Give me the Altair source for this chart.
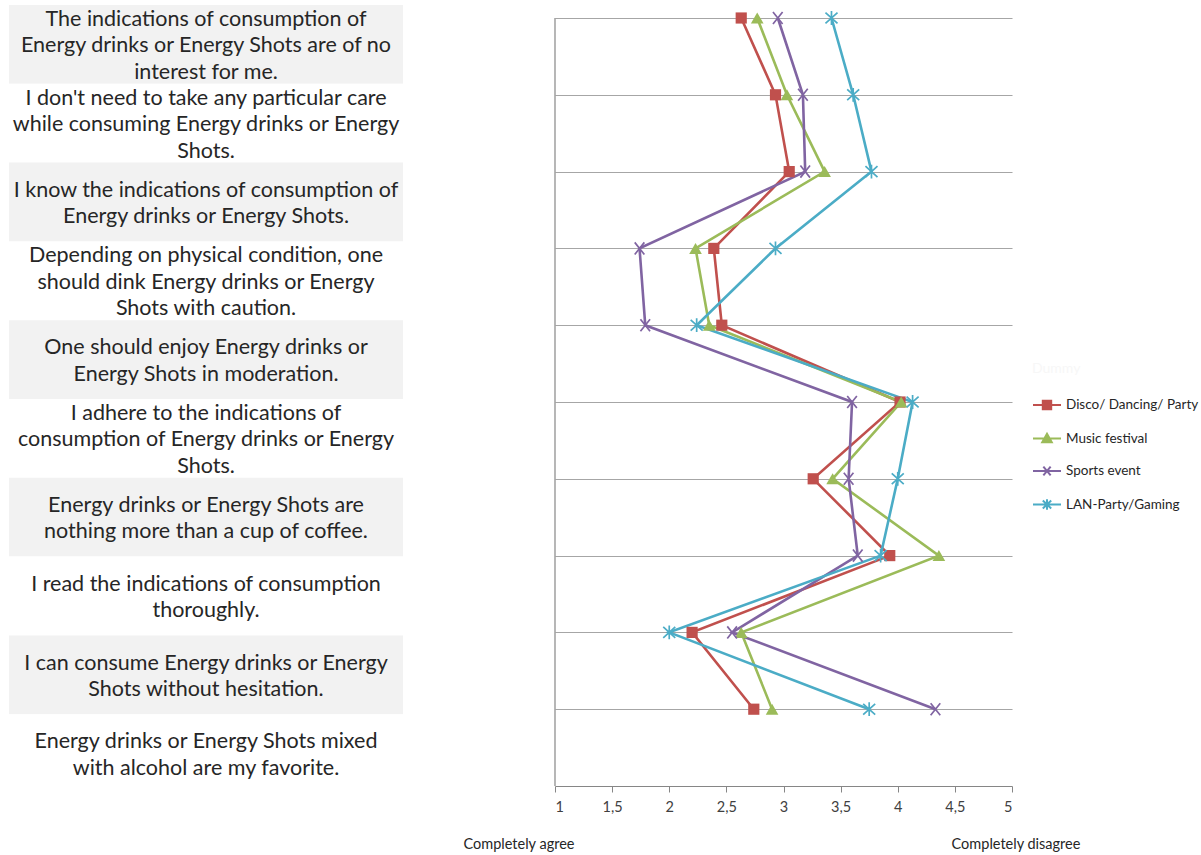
import altair as alt
import pandas as pd

# Survey statements (top to bottom)
STATEMENTS = [
    "The indications of consumption of\nEnergy drinks or Energy Shots are of no\ninterest for me.",
    "I don't need to take any particular care\nwhile consuming Energy drinks or Energy\nShots.",
    "I know the indications of consumption of\nEnergy drinks or Energy Shots.",
    "Depending on physical condition, one\nshould dink Energy drinks or Energy\nShots with caution.",
    "One should enjoy Energy drinks or\nEnergy Shots in moderation.",
    "I adhere to the indications of\nconsumption of Energy drinks or Energy\nShots.",
    "Energy drinks or Energy Shots are\nnothing more than a cup of coffee.",
    "I read the indications of consumption\nthoroughly.",
    "I can consume Energy drinks or Energy\nShots without hesitation.",
    "Energy drinks or Energy Shots mixed\nwith alcohol are my favorite.",
]

SERIES = ["Disco/ Dancing/ Party", "Music festival", "Sports event", "LAN-Party/Gaming"]
COLORS = ["#C0504D", "#9BBB59", "#8064A2", "#4BACC6"]

# Mean agreement (1 = completely agree, 5 = completely disagree), one value per statement
DISCO = [2.63, 2.93, 3.05, 2.39, 2.46, 4.02, 3.26, 3.93, 2.20, 2.74]
MUSIC = [2.77, 3.03, 3.36, 2.23, 2.35, 4.03, 3.43, 4.36, 2.63, 2.90]
SPORTS = [2.95, 3.17, 3.19, 1.74, 1.79, 3.60, 3.57, 3.65, 2.55, 4.33]
LAN = [3.42, 3.61, 3.77, 2.93, 2.24, 4.13, 4.00, 3.85, 2.00, 3.75]

X_TICKS = [1, 1.5, 2, 2.5, 3, 3.5, 4, 4.5, 5]
ROW_POSITIONS = list(range(1, 11))
END_LABELS = ["Completely agree", "Completely disagree"]

FONT = "Lato"
TEXT = "#262626"
GRID = "#a6a6a6"
AXIS = "#868686"

# ---- long table for the profile lines ----
records = []
for name, vals in zip(SERIES, [DISCO, MUSIC, SPORTS, LAN]):
    for i, v in enumerate(vals):
        records.append({"series": name, "idx": i, "pos": len(vals) - i, "value": v})
df = pd.DataFrame(records)

rows = pd.DataFrame({
    "statement": STATEMENTS,
    "idx": list(range(len(STATEMENTS))),
    "nlines": [s.count("\n") + 1 for s in STATEMENTS],
})

# ---- left panel: statements on alternating shaded bands ----
LEFT_W, LEFT_H = 394, 788
LINE_H = 26.5
y_band = alt.Y("statement:N", sort=STATEMENTS, axis=None,
               scale=alt.Scale(paddingInner=0, paddingOuter=0))

boxes = alt.Chart(rows).mark_rect().encode(
    y=y_band,
    x=alt.value(0),
    x2=alt.value(LEFT_W),
    fill=alt.condition("datum.idx % 2 == 0", alt.value("#f2f2f2"), alt.value("#ffffff")),
)

# multi-line labels, centred vertically in their band
label_layers = [
    alt.Chart(rows).transform_filter(alt.datum.nlines == n).mark_text(
        font=FONT, fontSize=21.5, lineBreak="\n", lineHeight=LINE_H,
        align="center", baseline="middle", color=TEXT, dy=-(n - 1) * LINE_H / 2 + 2,
    ).encode(y=y_band, x=alt.value(LEFT_W / 2), text="statement:N")
    for n in (2, 3)
]

left = alt.layer(boxes, *label_layers).properties(width=LEFT_W, height=LEFT_H)

# ---- right panel: agreement profiles ----
RIGHT_W, RIGHT_H = 457, 781
UNIT = 76.8
Y_TOP = RIGHT_H / UNIT

x_enc = alt.X(
    "value:Q",
    scale=alt.Scale(domain=[1, 5], nice=False, zero=False),
    axis=alt.Axis(values=X_TICKS, grid=False, title=None, domainColor=AXIS, tickColor=AXIS,
                  tickSize=6, labelFont=FONT, labelFontSize=14.5, labelColor="#404040",
                  labelPadding=8, format="~g",
                  labelExpr="replace(datum.label, '.', ',')"),
)
y_enc = alt.Y(
    "pos:Q",
    scale=alt.Scale(domain=[0, Y_TOP], nice=False, zero=False),
    axis=alt.Axis(values=ROW_POSITIONS, grid=True, gridColor=GRID, gridWidth=1.2,
                  domain=False, ticks=False, labels=False, title=None),
)
color_scale = alt.Scale(domain=SERIES, range=COLORS)

base = alt.Chart(df)

lines = base.mark_line(strokeWidth=2.6).encode(
    x=x_enc, y=y_enc,
    color=alt.Color("series:N", scale=color_scale, legend=None),
    order=alt.Order("idx:Q"),
)

X_PATH = "M-0.8,-1L0.8,1M-0.8,1L0.8,-1"
STAR_PATH = "M-1,-0.9L1,0.9M-1,0.9L1,-0.9M0,-1.15V1.15"
marker_styles = {
    SERIES[0]: dict(shape="square", filled=True, size=125),
    SERIES[1]: dict(shape="triangle-up", filled=True, size=160),
    SERIES[2]: dict(shape=X_PATH, filled=False, size=145, strokeWidth=1.7),
    SERIES[3]: dict(shape=STAR_PATH, filled=False, size=145, strokeWidth=1.7),
}
markers = [
    base.transform_filter(alt.datum.series == s).mark_point(opacity=1, **marker_styles[s]).encode(
        x=x_enc, y=y_enc,
        color=alt.Color("series:N", scale=color_scale, legend=None),
    )
    for s in SERIES
]

# legend symbols: line segment with the series marker
LEGEND_PATHS = [
    "M-1,0H1M-0.3,-0.3H0.3V0.3H-0.3Z",
    "M-1,0H1M0,-0.34L0.34,0.26H-0.34Z",
    "M-1,0H1M-0.26,-0.32L0.26,0.32M-0.26,0.32L0.26,-0.32",
    "M-1,0H1M-0.3,-0.28L0.3,0.28M-0.3,0.28L0.3,-0.28M0,-0.38V0.38",
]
leg = alt.Legend(
    title="Dummy", orient="none", legendX=477, legendY=357,
    symbolSize=784, symbolStrokeWidth=2, symbolOpacity=1,
    labelFont=FONT, labelFontSize=13.5, labelColor=TEXT, labelOffset=4,
    titleFont=FONT, titleFontSize=14, titleFontWeight="normal", titleColor="#f7f7f7",
    titlePadding=14, rowPadding=9.5, padding=0,
)
# invisible marks that only carry the legend
legend_layer = base.mark_point(filled=True, opacity=0).encode(
    x=x_enc, y=y_enc,
    fill=alt.Fill("series:N", scale=alt.Scale(domain=SERIES, range=COLORS), legend=leg),
    stroke=alt.Stroke("series:N", scale=alt.Scale(domain=SERIES, range=COLORS), legend=leg),
    shape=alt.Shape("series:N", scale=alt.Scale(domain=SERIES, range=LEGEND_PATHS), legend=leg),
)

# vertical axis line from the lowest to the highest row band
y_line = alt.Chart(pd.DataFrame({"lo": [0], "hi": [10]})).mark_rule(
    color=AXIS, strokeWidth=1.2
).encode(x=alt.datum(1), y=alt.Y("lo:Q"), y2="hi:Q")

end_text = [
    alt.Chart(pd.DataFrame({"label": [t], "at": [xv]})).mark_text(
        font=FONT, fontSize=14.5, color=TEXT, dx=dx, baseline="middle"
    ).encode(x=alt.X("at:Q"), y=alt.value(RIGHT_H + 59), text="label:N")
    for t, xv, dx in zip(END_LABELS, [1, 5], [-36, 4])
]

right = alt.layer(y_line, lines, *markers, legend_layer, *end_text).properties(
    width=RIGHT_W, height=RIGHT_H
)

chart = (
    alt.hconcat(left, right, spacing=152, bounds="flush")
    .resolve_scale(x="independent", y="independent",
                   fill="independent", stroke="independent", shape="independent")
    .properties(padding={"left": 9, "top": 5, "right": 0, "bottom": 0})
    .configure_view(stroke=None)
)

chart.save("out.html", embed_options={"renderer": "svg", "actions": False})
